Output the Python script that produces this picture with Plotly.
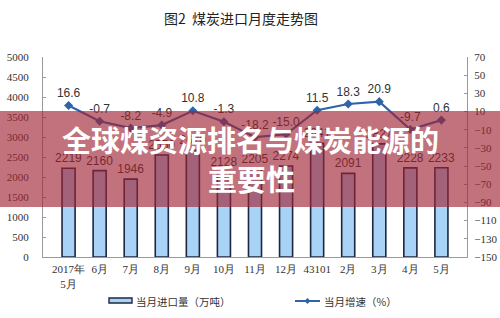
import plotly.graph_objects as go

months = ["2017年<br>5月", "6月", "7月", "8月", "9月", "10月", "11月", "12月",
          "43101", "2月", "3月", "4月", "5月"]
imports = [2219, 2160, 1946, 2550, 2670, 2128, 2205, 2274, 2841, 2091, 2827, 2228, 2233]
growth = [16.6, -0.7, -8.2, -4.9, 10.8, -1.3, -18.2, -15.0, 11.5, 18.3, 20.9, -9.7, 0.6]
left_ticks = list(range(0, 5001, 500))
right_ticks = list(range(-150, 71, 20))

fig = go.Figure()
fig.add_trace(go.Bar(
    x=months, y=imports, name="当月进口量（万吨）",
    marker=dict(color="#A9D2F7", line=dict(color="#1C2740", width=1.6)),
    text=[str(v) for v in imports], textposition="outside", constraintext="none",
    textfont=dict(family="Liberation Sans, Arial", size=12, color="#333333"),
    cliponaxis=False, showlegend=False,
))
fig.add_trace(go.Scatter(
    x=months, y=growth, yaxis="y2", name="当月增速（%）", mode="lines+markers+text",
    line=dict(color="#2F64A8", width=2.2),
    marker=dict(symbol="diamond", size=7, color="#2F64A8"),
    text=[f"{v:.1f}" for v in growth], textposition="top center",
    textfont=dict(family="Liberation Sans, Arial", size=12, color="#333333"),
    cliponaxis=False, showlegend=False,
))

tickfont = dict(family="Liberation Serif, Times New Roman", size=11, color="#333333")
fig.update_layout(
    width=500, height=318,
    margin=dict(l=43, r=33, t=57, b=61, autoexpand=False),
    paper_bgcolor="white", plot_bgcolor="white",
    bargap=0.58,
    font=dict(family="Noto Sans CJK SC"),
    xaxis=dict(showgrid=False, showline=True, linecolor="#9A9A9A", linewidth=1,
               ticks="", tickfont=tickfont, ticklabelstandoff=2, automargin=False),
    yaxis=dict(range=[0, 5000], tickvals=left_ticks, showgrid=False, zeroline=False,
               showline=True, linecolor="#9A9A9A", linewidth=1,
               ticks="inside", ticklen=3, tickcolor="#9A9A9A",
               tickfont=tickfont, ticklabelstandoff=11, automargin=False),
    yaxis2=dict(range=[-150, 70], tickvals=right_ticks, overlaying="y", side="right",
                showgrid=False, zeroline=False,
                showline=True, linecolor="#9A9A9A", linewidth=1,
                ticks="inside", ticklen=3, tickcolor="#9A9A9A",
                tickfont=tickfont, ticklabelstandoff=4, automargin=False),
)

def px_x(px):
    return (px - 43) / 424
def px_y(py):
    return (257 - py) / 200

fig.add_annotation(text="图2  煤炭进口月度走势图", x=px_x(241), y=px_y(18), xref="paper", yref="paper",
                   xanchor="center", yanchor="middle", showarrow=False,
                   font=dict(family="Noto Sans CJK SC", size=14, color="#222222"))

# custom legend
fig.add_shape(type="rect", xref="paper", yref="paper",
              x0=px_x(109), x1=px_x(132), y0=px_y(303), y1=px_y(298),
              fillcolor="#A9D2F7", line=dict(color="#1C2740", width=1.4))
fig.add_annotation(text="当月进口量（万吨）", x=px_x(134), y=px_y(301), xref="paper", yref="paper",
                   xanchor="left", yanchor="middle", showarrow=False,
                   font=dict(family="Noto Sans CJK SC", size=10.5, color="#333333"))
fig.add_shape(type="line", xref="paper", yref="paper",
              x0=px_x(295), x1=px_x(320), y0=px_y(301), y1=px_y(301),
              line=dict(color="#2F64A8", width=2))
fig.add_shape(type="path", xref="paper", yref="paper",
              path=f"M {px_x(307.5)} {px_y(298)} L {px_x(310.5)} {px_y(301)} L {px_x(307.5)} {px_y(304)} L {px_x(304.5)} {px_y(301)} Z",
              fillcolor="#2F64A8", line=dict(width=0))
fig.add_annotation(text="当月增速（%）", x=px_x(322), y=px_y(301), xref="paper", yref="paper",
                   xanchor="left", yanchor="middle", showarrow=False,
                   font=dict(family="Noto Sans CJK SC", size=10.5, color="#333333"))

# banner overlay
fig.add_shape(type="rect", xref="paper", yref="paper", layer="above",
              x0=px_x(0), x1=px_x(500), y0=px_y(207), y1=px_y(111),
              fillcolor="rgba(160,35,50,0.64)", line=dict(width=0))
fig.add_annotation(text="<b>全球煤资源排名与煤炭能源的</b>", x=px_x(250), y=px_y(139),
                   xref="paper", yref="paper", xanchor="center", yanchor="middle",
                   showarrow=False, font=dict(family="Noto Sans CJK SC", size=29, color="white"))
fig.add_annotation(text="<b>重要性</b>", x=px_x(251), y=px_y(178),
                   xref="paper", yref="paper", xanchor="center", yanchor="middle",
                   showarrow=False, font=dict(family="Noto Sans CJK SC", size=29, color="white"))

fig.write_html("out.html")
